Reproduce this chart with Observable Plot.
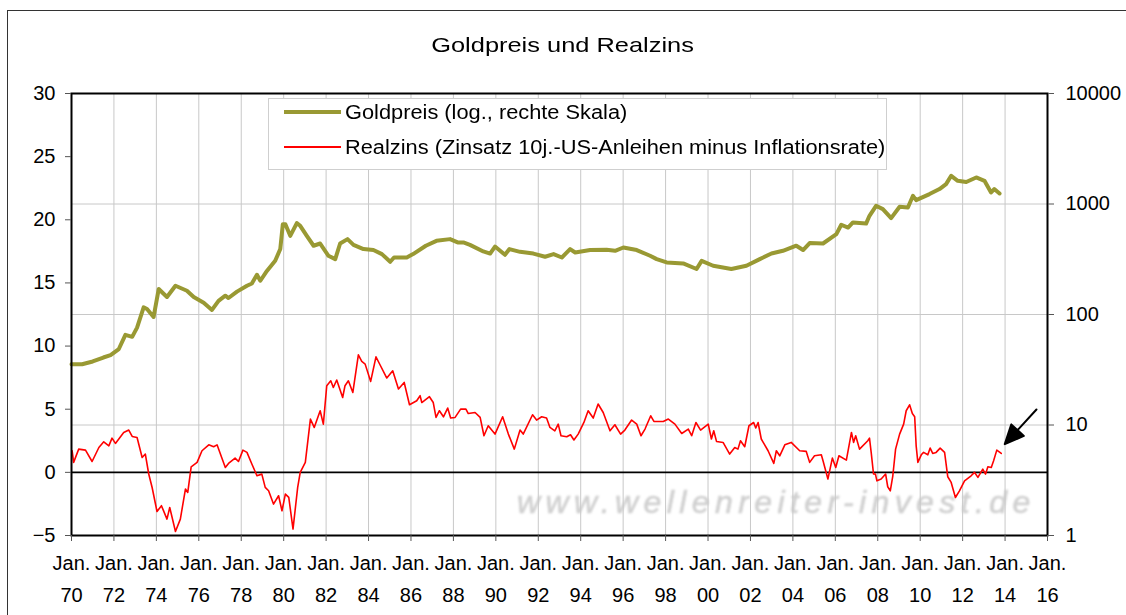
<!DOCTYPE html>
<html><head><meta charset="utf-8">
<script src="https://cdn.jsdelivr.net/npm/d3@7"></script>
<script src="https://cdn.jsdelivr.net/npm/@observablehq/plot@0.6"></script>
<style>
body{margin:0;background:#fff;font-family:Arial,"Liberation Sans",sans-serif;}
#wrap{position:relative;width:1126px;height:615px;overflow:hidden;background:#fff;}
#frame{position:absolute;left:7px;top:10px;width:1140px;height:700px;border:1.5px solid #333;box-sizing:border-box;}
#title{position:absolute;top:34px;left:0;width:1126px;text-align:center;font-size:21px;line-height:21px;}
#title span{display:inline-block;transform:scaleX(1.21);}
#chart{position:absolute;left:0;top:0;}
#legend{position:absolute;left:268px;top:98px;width:619px;height:72px;border:1px solid #cfcfcf;background:#fff;box-sizing:border-box;}
.lg{position:absolute;left:76px;font-size:20px;line-height:20px;transform:scaleX(1.09);transform-origin:left center;white-space:nowrap;}
.sw{position:absolute;left:15px;width:57px;}
#wm{position:absolute;left:517px;top:486px;font-size:32px;line-height:32px;font-style:italic;color:#d0d0d0;letter-spacing:5.4px;white-space:nowrap;filter:blur(0.8px);-webkit-text-stroke:0.6px #d0d0d0;}
</style>
</head><body>
<div id="wrap">
  <div id="frame"></div>
  <div id="title"><span>Goldpreis und Realzins</span></div>
  <div id="wm">www.wellenreiter-invest.de</div>
  <div id="chart"></div>
  <div id="legend">
    <div class="sw" style="top:11px;height:4px;background:#999933"></div>
    <div class="lg" style="top:3px">Goldpreis (log., rechte Skala)</div>
    <div class="sw" style="top:47px;height:2px;background:#ff0000"></div>
    <div class="lg" style="top:38px">Realzins (Zinsatz 10j.-US-Anleihen minus Inflationsrate)</div>
  </div>
</div>
<script>
// Goldpreis (USD, log. rechte Skala)
const goldYears = [1970.0,1970.5,1971.0,1971.5,1971.84,1972.23,1972.54,1972.86,1973.09,1973.40,1973.56,1973.87,1974.11,1974.50,1974.90,1975.44,1975.76,1976.23,1976.62,1976.93,1977.25,1977.40,1977.80,1978.27,1978.50,1978.74,1978.90,1979.21,1979.60,1979.84,1979.96,1980.08,1980.31,1980.62,1980.78,1981.09,1981.41,1981.72,1982.11,1982.43,1982.66,1983.01,1983.29,1983.76,1984.23,1984.63,1985.02,1985.2,1985.8,1986.1,1986.7,1987.2,1987.84,1988.2,1988.47,1988.78,1989.41,1989.73,1989.96,1990.43,1990.64,1991.14,1991.77,1992.32,1992.72,1993.11,1993.50,1993.74,1994.44,1995.22,1995.62,1996.01,1996.64,1997.27,1997.58,1998.05,1998.83,1999.46,1999.70,2000.24,2001.1,2001.81,2002.44,2002.99,2003.53,2004.16,2004.48,2004.79,2005.42,2006.05,2006.28,2006.60,2006.83,2007.45,2007.61,2007.92,2008.24,2008.63,2009.03,2009.42,2009.66,2009.81,2010.44,2010.91,2011.22,2011.46,2011.77,2012.17,2012.64,2013.03,2013.34,2013.49,2013.74];
const goldPrices = [35.4,35.5,37.6,40.8,42.9,48.7,65.5,62.8,76,116,112,95,170,144,182,164,144,128,110,133,148,141,161,182,191,229,202,248,306,391,657,657,515,671,635,515,419,439,340,317,439,481,427,391,383,352,300,328,328,352,419,464,481,449,449,427,372,356,412,347,391,369,356,333,352,328,391,364,383,385,377,404,383,340,317,296,290,258,306,276,258,276,317,356,377,419,383,443,439,534,649,612,681,665,782,963,899,745,944,930,1186,1084,1230,1365,1514,1799,1622,1580,1738,1622,1271,1365,1245];

// Realzins (%, linke Skala)
const realYears = [1970.03,1970.1,1970.34,1970.66,1970.97,1971.29,1971.52,1971.76,1971.91,1972.07,1972.46,1972.70,1972.86,1973.09,1973.33,1973.48,1973.64,1973.80,1974.03,1974.24,1974.50,1974.63,1974.90,1975.13,1975.37,1975.48,1975.64,1975.92,1976.15,1976.47,1976.70,1976.86,1977.25,1977.40,1977.71,1977.87,1978.08,1978.27,1978.50,1978.74,1978.97,1979.13,1979.29,1979.52,1979.76,1979.92,1980.08,1980.24,1980.44,1980.66,1980.78,1981.02,1981.26,1981.44,1981.72,1981.87,1982.03,1982.22,1982.34,1982.50,1982.78,1982.89,1983.05,1983.26,1983.52,1983.68,1983.84,1984.10,1984.35,1984.54,1984.86,1985.14,1985.41,1985.68,1985.93,1986.27,1986.43,1986.51,1986.87,1987.05,1987.18,1987.34,1987.53,1987.73,1987.87,1988.08,1988.34,1988.59,1988.70,1989.02,1989.26,1989.44,1989.64,1989.96,1990.32,1990.59,1990.87,1991.14,1991.29,1991.73,1991.92,1992.16,1992.39,1992.55,1992.78,1992.94,1993.07,1993.34,1993.52,1993.68,1993.88,1994.15,1994.35,1994.59,1994.82,1995.06,1995.38,1995.61,1995.88,1996.08,1996.40,1996.64,1996.84,1997.03,1997.30,1997.45,1997.89,1998.13,1998.44,1998.76,1999.07,1999.23,1999.43,1999.65,2000.01,2000.16,2000.27,2000.40,2000.71,2001.02,2001.26,2001.41,2001.53,2001.73,2001.93,2002.15,2002.25,2002.36,2002.51,2002.83,2003.10,2003.22,2003.38,2003.62,2003.92,2004.32,2004.63,2004.79,2005.02,2005.34,2005.42,2005.65,2005.86,2006.02,2006.17,2006.52,2006.76,2006.86,2006.96,2007.14,2007.53,2007.61,2007.69,2007.80,2007.89,2007.96,2008.16,2008.37,2008.47,2008.59,2008.71,2008.84,2009.03,2009.22,2009.34,2009.50,2009.63,2009.74,2009.81,2009.89,2010.05,2010.16,2010.36,2010.47,2010.59,2010.75,2010.94,2011.15,2011.30,2011.46,2011.66,2011.85,2012.09,2012.40,2012.56,2012.72,2012.95,2013.08,2013.19,2013.35,2013.46,2013.61,2013.82];
const realRates = [1.71,0.79,1.84,1.76,0.86,1.97,2.42,2.1,2.71,2.29,3.16,3.35,2.84,2.76,1.18,1.45,-0.13,-1.2,-3.1,-2.64,-3.7,-2.78,-4.68,-3.7,-1.32,-1.59,0.44,0.79,1.71,2.18,2.03,2.18,0.39,0.71,1.13,0.86,1.76,1.58,0.66,-0.27,-0.14,-1.19,-1.46,-2.51,-1.85,-3.04,-1.72,-1.98,-4.49,-1.19,0,0.79,4.22,3.56,4.88,3.82,6.86,7.25,6.72,7.31,5.93,6.86,7.25,6.33,9.31,8.78,8.57,7.2,9.15,8.52,7.47,8.04,6.6,7.12,5.35,5.67,6.07,5.53,5.99,5.53,4.35,4.88,4.4,5.09,4.3,4.35,5.01,5.01,4.66,4.74,4.35,2.9,3.69,3.03,4.4,3.03,1.84,3.35,3.03,4.56,4.14,4.4,4.3,3.56,3.29,3.82,2.9,2.82,2.98,2.56,3.03,3.95,4.88,4.3,5.41,4.74,3.29,3.77,3.03,3.35,4.14,3.82,2.9,3.43,4.48,4.03,4.03,4.22,3.82,3.08,3.43,2.9,3.95,3.35,3.82,2.64,3.29,2.45,2.37,1.45,1.97,1.84,2.5,2.03,3.69,3.95,3.51,3.95,2.64,1.71,0.71,1.71,1.31,2.18,2.37,1.71,1.66,0.79,1.31,1.39,0.92,-0.53,1.13,0.39,1.31,0.97,3.16,2.37,2.9,1.84,2.5,2.71,1.58,-0.13,-0.14,-0.67,-0.53,-0.13,-1.14,-1.46,-0.27,1.84,3.03,3.82,4.88,5.35,4.66,4.4,2.1,0.79,1.39,1.58,1.39,1.92,1.5,1.58,1.92,1.58,-0.35,-0.8,-1.99,-1.46,-0.67,-0.27,0,-0.4,0.26,-0.14,0.44,0.39,0.92,1.76,1.5];

// Achsen
const xTicks = d3.range(1970, 2017, 2);
const leftTicks = [-5, 0, 5, 10, 15, 20, 25, 30];
const rightTicks = [1, 10, 100, 1000, 10000];

// Pfeil-Annotation (Ende des Pfeils, in Datenkoordinaten)
const arrowTail = [{x: 2015.48, y: 4.98}];

// log-Goldpreis auf die linke Skala abbilden (1..10000 -> -5..30)
const toLeft = g => -5 + 35 / 4 * Math.log10(g);
const fromLeft = v => String(Math.round(Math.pow(10, (v + 5) * 4 / 35)));

const gold = goldYears.map((x, i) => ({x, y: toLeft(goldPrices[i])}));
const real = realYears.map((x, i) => ({x, y: realRates[i]}));

const arrowShape = {
  draw(context, l) {
    const hl = 19, hw = 8.5;
    context.moveTo(0, 0);
    context.lineTo(0, -l + hl);
    context.moveTo(0, -l);
    context.lineTo(-hw, -l + hl);
    context.lineTo(hw, -l + hl);
    context.closePath();
  }
};

const chart = Plot.plot({
  width: 1126,
  height: 615,
  marginLeft: 71,
  marginRight: 79,
  marginTop: 93,
  marginBottom: 80,
  style: {fontFamily: "Arial, 'Liberation Sans', sans-serif", fontSize: "20px", color: "#000", background: "transparent", overflow: "visible"},
  x: {domain: [1970, 2016]},
  y: {domain: [-5, 30]},
  marks: [
    Plot.gridX(xTicks.filter(t => t > 1970 && t < 2016), {stroke: "#c8c8c8", strokeOpacity: 1, strokeWidth: 1}),
    Plot.gridY(rightTicks.slice(1, -1).map(toLeft), {stroke: "#c8c8c8", strokeOpacity: 1, strokeWidth: 1}),
    Plot.ruleY([0], {stroke: "#000", strokeWidth: 1.6}),
    Plot.line(gold, {x: "x", y: "y", stroke: "#999933", strokeWidth: 4, strokeLinejoin: "round"}),
    Plot.line(real, {x: "x", y: "y", stroke: "#ff0000", strokeWidth: 1.6, strokeLinejoin: "round"}),
    Plot.frame({stroke: "#000", strokeWidth: 2}),
    Plot.axisY(leftTicks, {anchor: "left", tickSize: 6, tickPadding: 10, label: null, stroke: "#555"}),
    Plot.axisY(rightTicks.map(toLeft), {anchor: "right", tickSize: 6, tickPadding: 12, tickFormat: fromLeft, label: null, stroke: "#555"}),
    Plot.axisX(xTicks, {anchor: "bottom", tickSize: 6, tickPadding: 14, tickFormat: () => "Jan.", label: null, stroke: "#555"}),
    Plot.axisX(xTicks, {anchor: "bottom", tickSize: 0, tickPadding: 52, tickFormat: d => String(d % 100).padStart(2, "0"), label: null}),
    Plot.vector(arrowTail, {x: "x", y: "y", length: 47, rotate: 222.4, anchor: "start", shape: arrowShape, stroke: "#000", fill: "#000", strokeWidth: 2})
  ]
});
document.getElementById("chart").appendChild(chart);
</script>
</body></html>
